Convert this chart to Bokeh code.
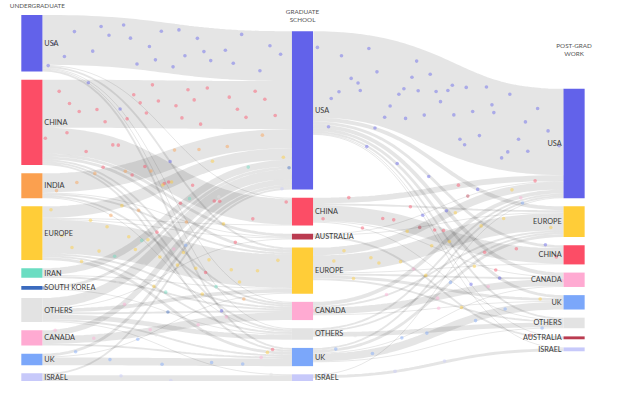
import math
from bokeh.plotting import figure
from bokeh.models import Range1d
from bokeh.embed import file_html
from bokeh.resources import INLINE
from bokeh.core.properties import value

# ---------------- data ----------------
undergrad_nodes = ["USA", "CHINA", "INDIA", "EUROPE", "IRAN", "SOUTH KOREA",
                   "OTHERS", "CANADA", "UK", "ISRAEL"]
grad_nodes = ["USA", "CHINA", "AUSTRALIA", "EUROPE", "CANADA", "OTHERS", "UK", "ISRAEL"]
work_nodes = ["USA", "EUROPE", "CHINA", "CANADA", "UK", "OTHERS", "AUSTRALIA", "ISRAEL"]

column_titles = [["UNDERGRADUATE"], ["GRADUATE", "SCHOOL"], ["POST-GRAD", "WORK"]]

# undergraduate -> graduate school
ug_src = ["USA"] * 6 + ["CHINA"] * 7 + ["INDIA"] * 5 + ["EUROPE"] * 7 + ["IRAN"] * 3 + \
         ["SOUTH KOREA"] * 2 + ["OTHERS"] * 7 + ["CANADA"] * 3 + ["UK"] * 3 + ["ISRAEL"] * 2
ug_dst = ["USA", "CHINA", "EUROPE", "CANADA", "UK", "OTHERS",
          "USA", "CHINA", "AUSTRALIA", "EUROPE", "CANADA", "OTHERS", "UK",
          "USA", "AUSTRALIA", "EUROPE", "CANADA", "OTHERS",
          "USA", "CHINA", "AUSTRALIA", "EUROPE", "CANADA", "OTHERS", "UK",
          "USA", "EUROPE", "CANADA",
          "USA", "OTHERS",
          "USA", "AUSTRALIA", "EUROPE", "CANADA", "OTHERS", "UK", "ISRAEL",
          "USA", "CANADA", "UK",
          "USA", "EUROPE", "UK",
          "USA", "ISRAEL"]
ug_val = [52, 1, 2, 1, 2, 1,
          50, 27, 3, 3, 2, 2, 2,
          20, 1, 2, 2, 1,
          12, 1, 1, 35, 2, 2, 3,
          7, 1, 2,
          3, 1,
          10, 1, 4, 2, 5, 2, 1,
          6, 8, 2,
          3, 1, 8,
          2, 6]

# graduate school -> post-grad work
gr_src = ["USA"] * 8 + ["CHINA"] * 5 + ["AUSTRALIA"] * 3 + ["EUROPE"] * 6 + \
         ["CANADA"] * 4 + ["OTHERS"] * 3 + ["UK"] * 5 + ["ISRAEL"] * 2
gr_dst = ["USA", "EUROPE", "CHINA", "CANADA", "UK", "OTHERS", "AUSTRALIA", "ISRAEL",
          "USA", "EUROPE", "CHINA", "CANADA", "OTHERS",
          "USA", "EUROPE", "AUSTRALIA",
          "USA", "EUROPE", "CHINA", "CANADA", "UK", "OTHERS",
          "USA", "EUROPE", "CANADA", "UK",
          "USA", "EUROPE", "OTHERS",
          "USA", "EUROPE", "CANADA", "UK", "OTHERS",
          "USA", "ISRAEL"]
gr_val = [90, 4, 3, 4, 3, 2, 1, 1,
          6, 2, 16, 1, 1,
          1, 1, 2,
          8, 18, 1, 2, 3, 2,
          4, 2, 7, 1,
          2, 2, 5,
          2, 3, 1, 8, 1,
          1, 3]

colors = {"USA": "#6262EA", "CHINA": "#FC4D66", "INDIA": "#FBA04F", "EUROPE": "#FFCD38",
          "IRAN": "#6BDDC2", "SOUTH KOREA": "#3B6BBE", "OTHERS": "#E3E3E3",
          "CANADA": "#FFAAD2", "UK": "#7BA7FA", "ISRAEL": "#C7C9FA", "AUSTRALIA": "#BA3B50"}

# ---------------- layout (reference pixel space) ----------------
col_x = [17, 299, 582]
node_w = 22
col_top = [15, 32, 92]
pad = 8.5
k = 1.0  # px per person

columns = [undergrad_nodes, grad_nodes, work_nodes]
stages = [(ug_src, ug_dst, ug_val), (gr_src, gr_dst, gr_val)]

nodes = {}
for c, names in enumerate(columns):
    for n in names:
        nodes[(c, n)] = {"in": 0, "out": 0}
for s, (src, dst, val) in enumerate(stages):
    for a, b, v in zip(src, dst, val):
        nodes[(s, a)]["out"] += v
        nodes[(s + 1, b)]["in"] += v
for c, names in enumerate(columns):
    y = col_top[c]
    for n in names:
        nd = nodes[(c, n)]
        h = max(nd["in"], nd["out"]) * k
        nd["y0"], nd["y1"] = y, y + h
        nd["x0"], nd["x1"] = col_x[c], col_x[c] + node_w
        y += h + pad

links = []
for s, (src, dst, val) in enumerate(stages):
    for a, b, v in zip(src, dst, val):
        links.append({"s": (s, a), "t": (s + 1, b), "v": v})
for key, nd in nodes.items():
    outs = sorted([l for l in links if l["s"] == key], key=lambda l: nodes[l["t"]]["y0"])
    y = nd["y0"]
    for l in outs:
        l["sy"] = y + l["v"] * k / 2
        y += l["v"] * k
    ins = sorted([l for l in links if l["t"] == key], key=lambda l: nodes[l["s"]]["y0"])
    y = nd["y0"]
    for l in ins:
        l["ty"] = y + l["v"] * k / 2
        y += l["v"] * k


def bez(x0, y0, x1, y1, t):
    xm = (x0 + x1) / 2
    mt = 1 - t
    x = mt ** 3 * x0 + 3 * mt ** 2 * t * xm + 3 * mt * t ** 2 * xm + t ** 3 * x1
    y = mt ** 3 * y0 + 3 * mt ** 2 * t * y0 + 3 * mt * t ** 2 * y1 + t ** 3 * y1
    return x, y


def halton(i, base):
    f, r = 1.0, 0.0
    while i > 0:
        f /= base
        r += f * (i % base)
        i //= base
    return r


# ---------------- figure ----------------
W, H = 604, 381
scale = H / 397.0
xspan = W / scale
xpad = (xspan - 620) / 2
p = figure(width=W, height=H, output_backend="svg", toolbar_location=None,
           x_range=Range1d(-xpad, 620 + xpad), y_range=Range1d(397, 0),
           x_axis_location=None, y_axis_location=None, min_border=0)
p.grid.visible = False
p.outline_line_color = None
p.background_fill_color = "white"

xs, ys, lw = [], [], []
dx, dy, dc = [], [], []
counter = 0
for l in links:
    x0 = nodes[l["s"]]["x1"]
    x1 = nodes[l["t"]]["x0"]
    pts = [bez(x0, l["sy"], x1, l["ty"], i / 40) for i in range(41)]
    xs.append([q[0] for q in pts])
    ys.append([q[1] for q in pts])
    lw.append(l["v"] * k * scale)
    nd = math.ceil(l["v"] * 0.45)
    for j in range(nd):
        counter += 1
        t = halton(counter + 7, 2)
        u = halton(counter + 7, 3)
        px, py = bez(x0, l["sy"], x1, l["ty"], t)
        dx.append(px)
        dy.append(py + (u - 0.5) * l["v"] * k * 0.85)
        dc.append(colors[l["s"][1]])

p.multi_line(xs=xs, ys=ys, line_width=lw, line_color="#000000", line_alpha=0.1,
             line_cap="butt")
p.scatter(x=dx, y=dy, size=3.6, fill_color=dc, fill_alpha=0.45, line_color=None)

qs = {"l": [], "r": [], "t": [], "b": [], "c": []}
for (c, n), nd in nodes.items():
    qs["l"].append(nd["x0"]); qs["r"].append(nd["x1"])
    qs["t"].append(nd["y0"]); qs["b"].append(nd["y1"])
    qs["c"].append(colors[n])
p.quad(left=qs["l"], right=qs["r"], top=qs["t"], bottom=qs["b"], fill_color=qs["c"],
       line_color=None)

font = value("Lato")
for c, names in enumerate(columns):
    lx, ly, lt = [], [], []
    for n in names:
        nd = nodes[(c, n)]
        lx.append(nd["x0"] - 2 if c == 2 else nd["x1"] + 2)
        ly.append((nd["y0"] + nd["y1"]) / 2)
        lt.append(n)
    p.text(x=lx, y=ly, text=lt, text_font=font, text_font_size="7.3px",
           text_color="#3a3a3a", text_baseline="middle",
           text_align="right" if c == 2 else "left")

p.text(x=[5], y=[5], text=column_titles[0], text_font=font, text_font_size="6.3px",
       text_color="#555555", text_baseline="middle", text_align="left")
for c, ytop in [(1, 11), (2, 47)]:
    cx = col_x[c] + node_w / 2
    p.text(x=[cx] * len(column_titles[c]),
           y=[ytop + 8.5 * i for i in range(len(column_titles[c]))],
           text=column_titles[c], text_font=font, text_font_size="6.3px",
           text_color="#555555", text_baseline="middle", text_align="center")

open("out.html", "w").write(file_html(p, INLINE))
